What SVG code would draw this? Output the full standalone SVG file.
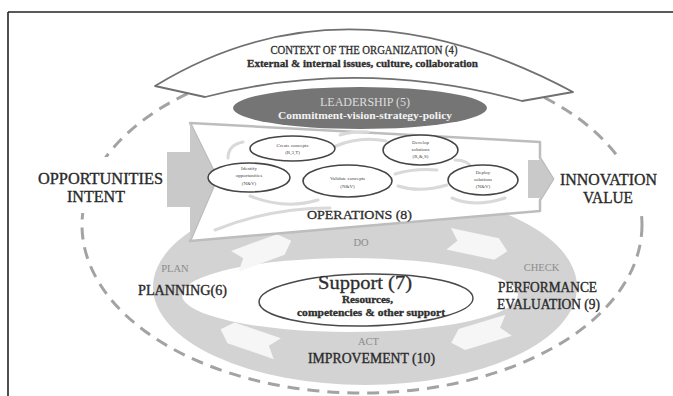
<svg xmlns="http://www.w3.org/2000/svg" width="673" height="396" viewBox="0 0 673 396">
  <style>
    text { font-family: "Liberation Serif", "DejaVu Serif", serif; text-anchor: middle; }
    .dark { fill: #2e2e2e; stroke: #2e2e2e; stroke-width: 0.3; }
    .gray { fill: #8c8c8c; font-size: 10.5px; }
    .big { font-size: 16px; fill: #2a2a2a; stroke: #2a2a2a; stroke-width: 0.35; }
    .mid { font-size: 14px; fill: #2a2a2a; stroke: #2a2a2a; stroke-width: 0.35; }
    .tiny { font-size: 5px; fill: #444444; }
    .step { fill: #ffffff; stroke: #454545; stroke-width: 1.6; }
    .flow { fill: none; stroke: #d9d9d9; stroke-width: 3; stroke-linecap: round; }
    .ring-arrow { fill: #f6f6f6; }
  </style>
  <defs>
    <!-- notched block arrow used around the PDCA ring, pointing to +x -->
    <polygon id="tag" points="-30,-11 19,-11 30,0 19,11 -30,11 -21,0"/>
  </defs>

  <rect width="673" height="396" fill="#ffffff"/>

  <!-- frame -->
  <g id="frame" stroke="#222222" stroke-width="1.6">
    <line x1="8" y1="12" x2="673" y2="12"/>
    <line x1="8" y1="12" x2="8" y2="396"/>
  </g>

  <!-- outer dashed boundary -->
  <ellipse id="boundary" cx="362" cy="225" rx="280" ry="168" fill="none" stroke="#a3a3a3" stroke-width="3" stroke-dasharray="12 8"/>

  <!-- PDCA ring -->
  <g id="pdca-ring">
    <path fill="#d3d3d3" fill-rule="evenodd"
      d="M153,287 A212,98 0 1,0 577,287 A212,98 0 1,0 153,287 Z
         M182,295 A168,37 0 1,0 518,295 A168,37 0 1,0 182,295 Z"/>
    <use href="#tag" class="ring-arrow" transform="translate(263,251) rotate(-20)"/>
    <use href="#tag" class="ring-arrow" transform="translate(478,245) rotate(12)"/>
    <use href="#tag" class="ring-arrow" transform="translate(480,334) rotate(163)"/>
    <use href="#tag" class="ring-arrow" transform="translate(249,339) rotate(199)"/>
  </g>

  <!-- operations funnel -->
  <g id="operations">
    <polygon points="190,123 540,142 540,158 553,179 540,200 540,211 190,241 217,178" fill="#ffffff" stroke="#bdbdbd" stroke-width="2.5" stroke-linejoin="round"/>
    <polygon points="167,152 190,152 190,123 217,178 190,241 190,207 167,207" fill="#c9c9c9"/>
    <polygon points="528,160 540,160 540,158 553,179 540,200 540,198 528,198" fill="#c9c9c9"/>
  </g>

  <!-- circulation between innovation steps -->
  <g id="connectors">
    <path class="flow" d="M228,158 Q228,145 243,142"/>
    <path class="flow" d="M336,146 Q360,136 386,141"/>
    <path class="flow" d="M340,135 Q355,131 368,132"/>
    <path class="flow" d="M395,174 Q415,168 437,170"/>
    <path class="flow" d="M455,160 Q468,160 472,168"/>
    <path class="flow" d="M398,186 Q420,193 447,185"/>
    <path class="flow" d="M250,196 Q285,210 318,200"/>
    <path class="flow" d="M452,198 Q475,208 505,198"/>
    <path class="flow" d="M215,230 Q270,208 330,208" stroke-width="5"/>
  </g>

  <!-- innovation steps -->
  <g id="create-concepts">
    <ellipse class="step" cx="292.5" cy="148.5" rx="42.5" ry="12.5"/>
    <text class="tiny" x="292.5" y="146.5">Create concepts</text>
    <text class="tiny" x="292.5" y="153.5">(R,3,T)</text>
  </g>
  <g id="identify-opportunities">
    <ellipse class="step" cx="249" cy="177.5" rx="41" ry="14.5"/>
    <text class="tiny" x="249" y="170">Identify</text>
    <text class="tiny" x="249" y="177">opportunities</text>
    <text class="tiny" x="249" y="184.5">(N&amp;V)</text>
  </g>
  <g id="validate-concepts">
    <ellipse class="step" cx="347.5" cy="181" rx="44.5" ry="16"/>
    <text class="tiny" x="347.5" y="180">Validate concepts</text>
    <text class="tiny" x="347.5" y="187.5">(N&amp;V)</text>
  </g>
  <g id="develop-solutions">
    <ellipse class="step" cx="420.5" cy="150" rx="37.5" ry="15"/>
    <text class="tiny" x="420.5" y="144">Develop</text>
    <text class="tiny" x="420.5" y="151">solutions</text>
    <text class="tiny" x="420.5" y="158">(R,&amp;,S)</text>
  </g>
  <g id="deploy-solutions">
    <ellipse class="step" cx="483" cy="180" rx="35" ry="15"/>
    <text class="tiny" x="483" y="174">Deploy</text>
    <text class="tiny" x="483" y="181">solutions</text>
    <text class="tiny" x="483" y="188">(N&amp;V)</text>
  </g>
  <text class="dark" x="359.5" y="219" font-size="13" textLength="105" lengthAdjust="spacingAndGlyphs">OPERATIONS (8)</text>

  <!-- leadership -->
  <g id="leadership">
    <ellipse cx="360" cy="108" rx="127" ry="21" fill="#757575"/>
    <text x="365" y="106" font-size="12" fill="#dedede" textLength="90" lengthAdjust="spacingAndGlyphs">LEADERSHIP (5)</text>
    <text x="365" y="119" font-size="11" font-weight="bold" fill="#f3f3f3" textLength="174" lengthAdjust="spacingAndGlyphs">Commitment-vision-strategy-policy</text>
  </g>

  <!-- context banner -->
  <g id="context">
    <path d="M155,86 Q345,-30 573,92 L522,101 Q360,57 205,97 Z" fill="#ffffff" stroke="#707070" stroke-width="1.8" stroke-linejoin="round"/>
    <text class="dark" x="364" y="54" font-size="12" textLength="187" lengthAdjust="spacingAndGlyphs">CONTEXT OF THE ORGANIZATION (4)</text>
    <text class="dark" x="362.5" y="66.5" font-size="11" font-weight="bold" textLength="231" lengthAdjust="spacingAndGlyphs">External &amp; internal issues, culture, collaboration</text>
  </g>

  <!-- input and output -->
  <g id="input">
    <rect x="33" y="157" width="132" height="56" fill="#ffffff"/>
    <text class="big" x="100.5" y="184" textLength="125" lengthAdjust="spacingAndGlyphs">OPPORTUNITIES</text>
    <text class="big" x="96" y="202" textLength="58" lengthAdjust="spacingAndGlyphs">INTENT</text>
  </g>
  <g id="output">
    <rect x="557" y="158" width="104" height="56" fill="#ffffff"/>
    <text class="big" x="608.5" y="185" textLength="97" lengthAdjust="spacingAndGlyphs">INNOVATION</text>
    <text class="big" x="608" y="203" textLength="50" lengthAdjust="spacingAndGlyphs">VALUE</text>
  </g>

  <!-- PDCA labels -->
  <g id="do"><text class="gray" x="361" y="246">DO</text></g>
  <g id="planning">
    <text class="gray" x="175" y="272">PLAN</text>
    <text class="mid" x="182.5" y="295" textLength="89" lengthAdjust="spacingAndGlyphs">PLANNING(6)</text>
  </g>
  <g id="evaluation">
    <text class="gray" x="541.5" y="271">CHECK</text>
    <text class="mid" x="547.5" y="292" font-size="13.5" textLength="99" lengthAdjust="spacingAndGlyphs">PERFORMANCE</text>
    <text class="mid" x="548.5" y="309" font-size="13.5" textLength="103" lengthAdjust="spacingAndGlyphs">EVALUATION (9)</text>
  </g>
  <g id="improvement">
    <text class="gray" x="368.5" y="345">ACT</text>
    <text class="mid" x="371.5" y="363" textLength="127" lengthAdjust="spacingAndGlyphs">IMPROVEMENT (10)</text>
  </g>

  <!-- support -->
  <g id="support">
    <ellipse cx="366" cy="300" rx="107" ry="26" fill="#ffffff" stroke="#4a4a4a" stroke-width="1.5" transform="rotate(-1 366 300)"/>
    <text class="dark" x="365" y="289" font-size="18" textLength="94" lengthAdjust="spacingAndGlyphs">Support (7)</text>
    <text class="dark" x="367.5" y="303" font-size="10" font-weight="bold" textLength="51" lengthAdjust="spacingAndGlyphs">Resources,</text>
    <text class="dark" x="371" y="316" font-size="10" font-weight="bold" textLength="148" lengthAdjust="spacingAndGlyphs">competencies &amp; other support</text>
  </g>
</svg>
